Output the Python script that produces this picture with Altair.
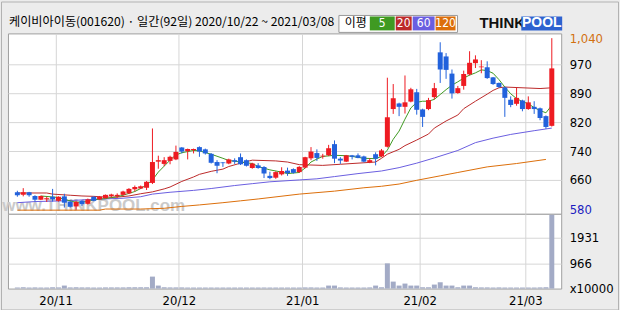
import altair as alt
import pandas as pd

# ---------------- data ----------------
holidays = ["2020-12-25", "2020-12-31", "2021-01-01", "2021-02-11", "2021-02-12", "2021-03-01"]
dates = [d for d in pd.bdate_range("2020-10-22", "2021-03-08") if d.strftime("%Y-%m-%d") not in holidays]

opens = [627, 620, 627, 617, 607, 608, 615, 604, 616, 602, 589, 604, 596, 615, 608, 611, 617, 616, 620, 624,
         635, 637, 639, 652, 709, 703, 711, 715, 747, 737, 740, 748, 742, 730, 708, 707, 704, 713, 721, 713,
         692, 699, 695, 671, 666, 675, 685, 689, 681, 693, 718, 732, 723, 726, 756, 717, 709, 726, 726, 723,
         707, 729, 723, 749, 850, 865, 856, 870, 895, 849, 850, 882, 1002, 991, 945, 893, 912, 943, 973, 962,
         962, 935, 920, 908, 875, 864, 873, 850, 856, 852, 831, 805]
highs = [631, 638, 628, 619, 618, 615, 636, 616, 623, 603, 604, 606, 610, 616, 617, 621, 623, 624, 631, 638,
         645, 645, 657, 798, 725, 721, 725, 752, 748, 744, 744, 750, 744, 732, 713, 708, 717, 718, 731, 715,
         706, 705, 697, 682, 683, 694, 693, 691, 697, 722, 748, 742, 730, 754, 766, 721, 727, 727, 731, 725,
         718, 734, 743, 934, 917, 867, 940, 907, 904, 851, 880, 920, 1029, 1000, 956, 912, 953, 1005, 994, 981,
         978, 936, 921, 910, 884, 907, 875, 884, 871, 854, 833, 1040]
lows = [615, 616, 615, 602, 606, 601, 602, 602, 586, 586, 580, 590, 594, 603, 607, 610, 613, 612, 618, 622,
        629, 636, 633, 649, 690, 697, 702, 713, 731, 715, 731, 722, 728, 704, 678, 695, 702, 703, 700, 696,
        690, 690, 665, 662, 663, 672, 671, 677, 679, 691, 713, 711, 717, 724, 705, 703, 708, 715, 718, 707,
        705, 699, 721, 747, 837, 831, 838, 868, 835, 802, 847, 876, 920, 931, 878, 891, 902, 940, 960, 946,
        931, 915, 907, 829, 855, 859, 844, 848, 837, 820, 797, 803]
closes = [619, 627, 619, 607, 617, 611, 608, 615, 599, 588, 601, 595, 608, 604, 615, 620, 621, 620, 629, 636,
          641, 643, 655, 708, 713, 713, 722, 735, 736, 743, 743, 736, 731, 706, 698, 705, 715, 709, 702, 698,
          704, 692, 677, 665, 681, 684, 678, 679, 695, 721, 736, 719, 725, 745, 717, 712, 726, 722, 719, 709,
          713, 717, 739, 828, 879, 856, 868, 903, 848, 829, 874, 906, 956, 955, 892, 906, 944, 974, 983, 964,
          933, 917, 909, 880, 861, 880, 850, 868, 850, 826, 802, 959]
volumes = [45, 50, 40, 45, 40, 40, 50, 45, 114, 45, 50, 45, 45, 40, 40, 45, 45, 45, 45, 50,
           50, 50, 50, 455, 114, 50, 45, 45, 45, 40, 40, 40, 40, 40, 40, 40, 40, 40, 40, 40,
           40, 40, 40, 40, 40, 40, 40, 40, 40, 45, 45, 40, 40, 114, 114, 45, 40, 40, 40, 40,
           45, 114, 50, 959, 265, 114, 190, 114, 114, 50, 50, 152, 240, 114, 114, 50, 114, 114, 50, 45,
           45, 40, 45, 40, 40, 40, 40, 40, 40, 45, 50, 2805]

ma5_idx = [4, 7, 8, 10, 12, 13, 15, 17, 18, 20, 21, 22, 23, 24, 25, 26, 27, 28, 30, 31, 33, 35, 36, 38, 40,
           41, 43, 45, 46, 48, 49, 50, 51, 52, 54, 56, 57, 59, 61, 62, 63, 64, 65, 66, 67, 68, 69, 70, 71,
           72, 73, 74, 75, 76, 77, 78, 79, 80, 81, 82, 83, 84, 85, 86, 87, 88, 89, 90, 91]
ma5_val = [617, 613, 608, 600, 602, 607, 610, 615, 619, 629, 637, 647, 660, 681, 697, 713, 727, 733, 739, 738,
           729, 718, 712, 708, 704, 696, 687, 681, 677, 680, 692, 708, 716, 723, 726, 725, 723, 718, 717, 723,
           740, 769, 791, 823, 853, 868, 871, 871, 876, 889, 902, 914, 923, 933, 941, 947, 955, 953, 946, 929,
           909, 891, 878, 870, 864, 854, 846, 840, 860]
ma20_idx = [0, 5, 6, 9, 11, 13, 15, 17, 19, 21, 23, 25, 26, 28, 30, 31, 33, 35, 36, 38, 40, 42, 44, 46, 48,
            52, 55, 59, 61, 62, 63, 65, 66, 68, 70, 71, 73, 75, 76, 78, 80, 81, 82, 83, 89, 91]
ma20_val = [625, 625, 622, 619, 617, 616, 614, 614, 617, 623, 628, 636, 641, 656, 668, 675, 683, 689, 696, 705,
            713, 712, 711, 708, 701, 699, 702, 706, 708, 718, 729, 742, 752, 767, 783, 799, 818, 834, 851, 871,
            890, 900, 907, 909, 905, 907]
ma60_idx = [0, 3, 8, 13, 18, 21, 23, 26, 30, 33, 37, 40, 43, 48, 51, 54, 58, 62, 65, 68, 71, 75, 78, 81, 84, 88, 91]
ma60_val = [599, 602, 604, 608, 611, 615, 622, 627, 632, 637, 645, 650, 655, 660, 663, 669, 677, 684, 693, 705,
            719, 739, 760, 772, 782, 792, 799]
ma120_idx = [0, 14, 15, 21, 25, 28, 31, 35, 38, 41, 48, 54, 59, 62, 65, 68, 72, 75, 80, 85, 90]
ma120_val = [579, 579, 582, 582, 584, 589, 593, 599, 604, 609, 622, 630, 639, 643, 649, 659, 671, 680, 695, 704, 715]

price_tick_values = [580, 660, 737.5, 815, 892.5, 970, 1040]
price_tick_labels = ["580", "660", "740", "820", "890", "970", "1,040"]
vol_tick_values = [0, 966, 1931]
vol_tick_labels = ["x10000", "966", "1931"]

title_text = "케이비아이동(001620) · 일간(92일) 2020/10/22 ~ 2021/03/08"
ma_names = ["5", "20", "60", "120"]
ma_colors = ["#3f9a22", "#bc2a2a", "#6a5ee0", "#dc6e0a"]

# ---------------- styling ----------------
RED, BLUE = "#ee1b22", "#2262dc"
GRID = "#d6d6d6"
VOLC = "#a3abc6"
FONT_NUM = "'Liberation Sans Narrow', 'Arial Narrow', 'DejaVu Sans Condensed', 'Liberation Sans', sans-serif"
FONT_KR = "'Noto Sans CJK KR', sans-serif"
FONT_LOGO = "'Liberation Sans', Arial, sans-serif"

n = len(dates)
assert n == 92
df = pd.DataFrame({"i": list(range(n)), "date": [d.strftime("%Y-%m-%d") for d in dates],
                   "open": opens, "high": highs, "low": lows, "close": closes, "vol": volumes})
df["dir"] = ["up" if c >= o else "down" for o, c in zip(opens, closes)]

month_start = [k for k in range(1, n) if dates[k].month != dates[k - 1].month]
grid_pos = [k - 0.5 for k in month_start]
grid_labels = [dates[k].strftime("%y/%m") for k in month_start]


def lab_expr(vals, labs):
    s = "''"
    for v, l in zip(vals, labs):
        s = f"datum.value == {v} ? '{l}' : (" + s + ")"
    return s


x_scale = alt.Scale(domain=[-0.75, 91.75], nice=False, zero=False)
py_scale = alt.Scale(domain=[569.2, 1052.8], nice=False, zero=False)
vy_scale = alt.Scale(domain=[0, 2843], nice=False, zero=False)

px_axis = alt.Axis(values=grid_pos, grid=True, gridColor=GRID, labels=False, ticks=False,
                   domain=False, title=None)
py_axis = alt.Axis(orient="right", values=price_tick_values,
                   labelExpr=lab_expr(price_tick_values, price_tick_labels),
                   grid=True, gridColor=GRID,
                   gridOpacity={"condition": {"test": "datum.value == 1040 || datum.value == 580", "value": 0},
                                "value": 1},
                   labelColor={"condition": [{"test": "datum.value == 1040", "value": "#d2700f"},
                                             {"test": "datum.value == 580", "value": "#1c1cc0"}],
                               "value": "#000000"},
                   ticks=False, domain=False, title=None, labelFont=FONT_NUM, labelFontSize=13,
                   labelPadding=8, labelOverlap=False, labelBaseline="middle", labelAlign="left")
vx_axis = alt.Axis(values=grid_pos, labelExpr=lab_expr(grid_pos, grid_labels), grid=True, gridColor=GRID,
                   ticks=False, domain=False, title=None, labelFont=FONT_NUM, labelFontSize=13,
                   labelPadding=6, labelFlush=False, labelOverlap=False, labelColor="#000000")
vy_axis = alt.Axis(orient="right", values=vol_tick_values, labelExpr=lab_expr(vol_tick_values, vol_tick_labels),
                   grid=True, gridColor=GRID,
                   gridOpacity={"condition": {"test": "datum.value == 0", "value": 0}, "value": 1},
                   ticks=False, domain=False, title=None, labelFont=FONT_NUM, labelFontSize=13,
                   labelPadding=8, labelOverlap=False, labelBaseline="middle", labelAlign="left",
                   labelColor="#000000")

X = alt.X("i:Q", scale=x_scale, axis=px_axis)
one = pd.DataFrame({"a": [0]})


def txt(s, x, y, size, color, font, weight="normal", align="left"):
    return alt.Chart(one).mark_text(text=s, align=align, baseline="middle", fontSize=size, font=font,
                                    fontWeight=weight, color=color).encode(x=alt.value(x), y=alt.value(y))


def box(x1, x2, y1, y2, fill, stroke=None, fill_opacity=1):
    kw = dict(fill=fill, fillOpacity=fill_opacity)
    if stroke:
        kw.update(stroke=stroke, strokeWidth=1)
    return alt.Chart(one).mark_rect(**kw).encode(x=alt.value(x1), x2=alt.value(x2),
                                                 y=alt.value(y1), y2=alt.value(y2))


watermark = txt("www.THINKPOOL.com", 86, 173, 17, "#cacaca", FONT_LOGO, "bold", "center")

ma_layers = []
for idx, val, col in [(ma120_idx, ma120_val, ma_colors[3]), (ma60_idx, ma60_val, ma_colors[2]),
                      (ma20_idx, ma20_val, ma_colors[1]), (ma5_idx, ma5_val, ma_colors[0])]:
    mdf = pd.DataFrame({"i": idx, "v": val})
    ma_layers.append(alt.Chart(mdf).mark_line(strokeWidth=1, color=col).encode(
        x=X, y=alt.Y("v:Q", scale=py_scale, axis=py_axis)))

color_enc = alt.Color("dir:N", scale=alt.Scale(domain=["up", "down"], range=[RED, BLUE]), legend=None)
wicks = alt.Chart(df).mark_rule(strokeWidth=1).encode(
    x=X, y=alt.Y("low:Q", scale=py_scale, axis=py_axis), y2="high:Q", color=color_enc)
bodies = alt.Chart(df).mark_bar(size=5).encode(
    x=X, y=alt.Y("open:Q", scale=py_scale, axis=py_axis), y2="close:Q", color=color_enc)

header = [txt(title_text, 1, -11, 12.2, "#000000", FONT_KR),
          box(332, 451, -18, -1, "white", "#9a9a9a"),
          txt("이평", 349, -10, 12, "#000000", FONT_KR, align="center")]
legend_x = [(363, 388), (389, 405), (406, 428), (429, 449)]
for (x1, x2), name, col in zip(legend_x, ma_names, ma_colors):
    header.append(box(x1, x2, -17, -3, col))
    header.append(txt(name, (x1 + x2) / 2, -10, 12, "white", FONT_NUM, align="center"))
header += [txt("THINK", 473, -10, 15, "#111111", FONT_LOGO, "bold"),
           box(515, 556, -17, -3, "#2e62d0"),
           txt("POOL", 535.5, -10, 14, "white", FONT_LOGO, "bold", "center"),
           box(-6.5, 612.5, -31.5, 277.5, "#ececec", "#b2b2b2", 0)]

price = alt.layer(watermark, *ma_layers, wicks, bodies, *header).properties(width=555, height=181)

volume = alt.Chart(df).mark_bar(size=5, color=VOLC).encode(
    x=alt.X("i:Q", scale=x_scale, axis=vx_axis),
    y=alt.Y("vol:Q", scale=vy_scale, axis=vy_axis)).properties(width=555, height=75)

chart = alt.vconcat(price, volume, spacing=0, bounds="flush").properties(padding=0).configure(
    background="#ececec").configure_view(stroke="#a0a0a0", strokeWidth=1, fill="white")

chart.save("out.html", embed_options={"renderer": "svg", "actions": False})
